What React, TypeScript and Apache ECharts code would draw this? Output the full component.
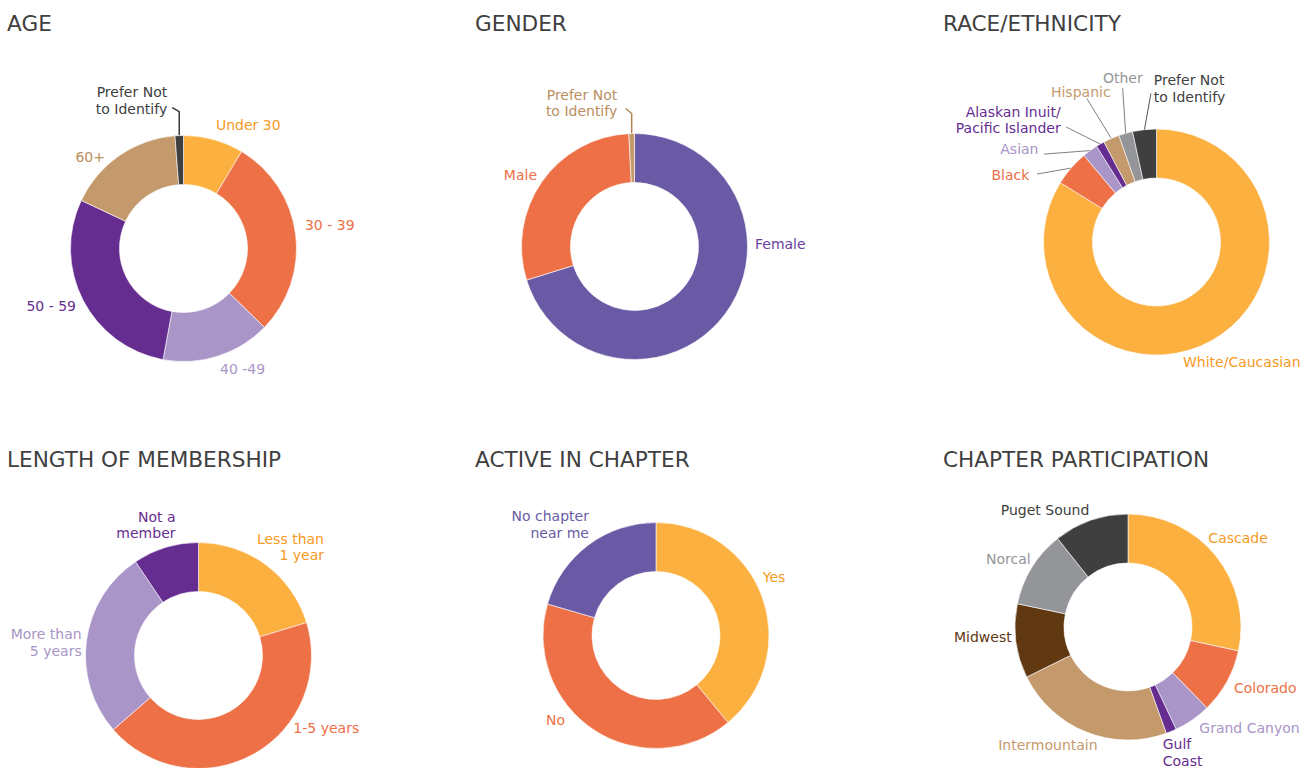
import React, { useEffect, useRef } from 'react';
import * as echarts from 'echarts';

// ---------- DATA ----------
const panelTitles = ['AGE', 'GENDER', 'RACE/ETHNICITY', 'LENGTH OF MEMBERSHIP', 'ACTIVE IN CHAPTER', 'CHAPTER PARTICIPATION'];

const ageCategories = ['Under 30', '30 - 39', '40 -49', '50 - 59', '60+', 'Prefer Not\nto Identify'];
const ageValues = [8.6, 28.7, 15.6, 29.1, 16.8, 1.2];

const genderCategories = ['Female', 'Male', 'Prefer Not\nto Identify'];
const genderValues = [70.2, 29.0, 0.8];

const raceCategories = ['White/Caucasian', 'Black', 'Asian', 'Alaskan Inuit/\nPacific Islander', 'Hispanic', 'Other', 'Prefer Not\nto Identify'];
const raceValues = [83.8, 5.1, 2.2, 1.2, 2.3, 2.0, 3.4];

const membershipCategories = ['Less than\n1 year', '1-5 years', 'More than\n5 years', 'Not a\nmember'];
const membershipValues = [20.3, 43.3, 27.0, 9.4];

const activeCategories = ['Yes', 'No', 'No chapter\nnear me'];
const activeValues = [39.0, 40.5, 20.5];

const chapterCategories = ['Cascade', 'Colorado', 'Grand Canyon', 'Gulf\nCoast', 'Intermountain', 'Midwest', 'Norcal', 'Puget Sound'];
const chapterValues = [28.4, 9.3, 5.3, 1.5, 23.2, 10.6, 11.0, 10.7];

// ---------- STYLE ----------
const YEL = '#FBB040', ORG = '#ED7047', LPUR = '#A995C7', DPUR = '#662D91', TAN = '#C49A6C';
const DGRY = '#3F3F3F', GRY = '#939598', BRN = '#603913', SLATE = '#6A5AA5';
const YEL_TXT = '#F79A25', TAN_TXT = '#BA8F60';
const FONT = 'DejaVu Sans';

type Nudge = { dx: number; dy: number; align?: 'left' | 'right'; line?: number[][]; lineColor?: string; lineWidth?: number };

const panelStyles: { center: number[]; title: number[]; colors: string[]; labelColors: string[]; nudges: Nudge[] }[] = [
  {
    center: [183.5, 248.5], title: [7, 12],
    colors: [YEL, ORG, LPUR, DPUR, TAN, DGRY],
    labelColors: [YEL_TXT, ORG, LPUR, DPUR, TAN_TXT, '#404040'],
    nudges: [
      { dx: -2.7, dy: -14.6 }, { dx: 4.4, dy: -9 }, { dx: -2.7, dy: 12.8 }, { dx: -2, dy: 5.9 }, { dx: -9.4, dy: 1.6 },
      { dx: -6, dy: -34, line: [[0, 0], [0, -24], [-7, -28]], lineColor: '#3A3A3A', lineWidth: 1.5 },
    ],
  },
  {
    center: [634.5, 246.5], title: [475, 12],
    colors: [SLATE, ORG, TAN],
    labelColors: ['#6A3F9E', ORG, TAN_TXT],
    nudges: [
      { dx: 24.5, dy: -69.5 }, { dx: 0.2, dy: -6.8 },
      { dx: -8.4, dy: -29.3, line: [[0, 0], [0, -20], [-6, -25]], lineColor: '#B08558', lineWidth: 1.5 },
    ],
  },
  {
    center: [1156.5, 242], title: [943, 12],
    colors: [YEL, ORG, LPUR, DPUR, TAN, GRY, DGRY],
    labelColors: [YEL_TXT, ORG, LPUR, DPUR, TAN, GRY, '#404040'],
    nudges: [
      { dx: -33.6, dy: 21.3 },
      { dx: -35, dy: 7.4, line: [[0, 0], [-34, 6]] },
      { dx: -45, dy: -0.6, line: [[0, 0], [-46, 3.5]] },
      { dx: -33, dy: -23, line: [[0, 0], [-34, -17]] },
      { dx: 5.7, dy: -45.4, line: [[0, 0], [-24.5, -40]] },
      { dx: 23.3, dy: -54.3, line: [[0, 0], [-3, -45]] },
      { dx: 15.5, dy: -40.1, align: 'left', line: [[0, 0], [6.5, -36.3]], lineColor: '#555555' },
    ],
  },
  {
    center: [198.5, 655.5], title: [7, 448.5],
    colors: [YEL, ORG, LPUR, DPUR],
    labelColors: [YEL_TXT, ORG, LPUR, DPUR],
    nudges: [{ dx: 53.2, dy: -17.7, align: 'right' }, { dx: 35.1, dy: -26.1 }, { dx: 0.2, dy: 1.7 }, { dx: 14.9, dy: -22.4 }],
  },
  {
    center: [656, 635.5], title: [475, 448.5],
    colors: [YEL, ORG, SLATE],
    labelColors: [YEL_TXT, ORG, SLATE],
    nudges: [{ dx: -4.6, dy: -19.9 }, { dx: -24, dy: -9.9 }, { dx: 5.8, dy: -20.4 }],
  },
  {
    center: [1128, 627], title: [943, 448.5],
    colors: [YEL, ORG, LPUR, DPUR, TAN, BRN, GRY, DGRY],
    labelColors: [YEL_TXT, ORG, LPUR, DPUR, TAN, BRN, GRY, '#404040'],
    nudges: [
      { dx: -12.6, dy: -18.3 }, { dx: 2.1, dy: 6 }, { dx: 1.9, dy: 7.8 }, { dx: -13.5, dy: 21.2 },
      { dx: 16.9, dy: 13.2 }, { dx: 0.8, dy: -4.5 }, { dx: 3.9, dy: -8.4 }, { dx: 3.6, dy: -10.3 },
    ],
  },
];

const panelData = [
  { cats: ageCategories, vals: ageValues },
  { cats: genderCategories, vals: genderValues },
  { cats: raceCategories, vals: raceValues },
  { cats: membershipCategories, vals: membershipValues },
  { cats: activeCategories, vals: activeValues },
  { cats: chapterCategories, vals: chapterValues },
];

function layoutLabel(si: number, params: any) {
  const n = panelStyles[si].nudges[params.dataIndex];
  if (!n) return {};
  const r = params.labelRect;
  const isRight = params.align === 'right';
  const ax = isRight ? r.x + r.width : r.x;
  const ay = r.y + r.height / 2;
  const out: any = {
    x: ax + n.dx,
    y: ay + n.dy,
    align: n.align || params.align,
    verticalAlign: 'middle',
  };
  if (n.line) {
    let p0 = params.labelLinePoints && params.labelLinePoints[0];
    if (!p0 || !isFinite(p0[0]) || !isFinite(p0[1])) p0 = [ax + (isRight ? 6 : -6), ay];
    out.labelLinePoints = n.line.map(([dx, dy]) => [p0[0] + dx, p0[1] + dy]);
  }
  return out;
}

function buildOption() {
  return {
    animation: false,
    backgroundColor: '#ffffff',
    title: panelTitles.map((t, i) => ({
      text: t,
      left: panelStyles[i].title[0],
      top: panelStyles[i].title[1],
      padding: 0,
      textStyle: { fontFamily: FONT, fontSize: 21.6, fontWeight: 'normal', color: '#404040' },
    })),
    series: panelData.map((p, si) => {
      const st = panelStyles[si];
      return {
        type: 'pie',
        center: st.center,
        radius: [64, 113],
        startAngle: 90,
        clockwise: true,
        avoidLabelOverlap: false,
        minShowLabelAngle: 0,
        silent: true,
        itemStyle: { borderColor: '#ffffff', borderWidth: 0.6 },
        label: {
          show: true,
          position: 'outside',
          formatter: '{b}',
          fontFamily: FONT,
          fontSize: 14,
          lineHeight: 16.5,
          distanceToLabelLine: 5,
        },
        labelLine: { show: false, length: 0, length2: 0 },
        emphasis: { disabled: true },
        labelLayout: (params: any) => layoutLabel(si, params),
        data: p.cats.map((c, i) => {
          const n = st.nudges[i];
          return {
            name: c,
            value: p.vals[i],
            itemStyle: { color: st.colors[i] },
            label: { color: st.labelColors[i] },
            labelLine: n && n.line
              ? { show: true, length: 1, length2: 1, smooth: false, lineStyle: { color: n.lineColor || '#7F7F7F', width: n.lineWidth || 1 } }
              : { show: false, length: 0, length2: 0 },
          };
        }),
      };
    }),
  };
}

export default function App() {
  const ref = useRef<HTMLDivElement>(null);
  useEffect(() => {
    if (!ref.current) return;
    const chart = echarts.init(ref.current, null, { renderer: 'svg' });
    chart.setOption(buildOption() as any);
    return () => chart.dispose();
  }, []);
  return (
    <div
      ref={ref}
      style={{ position: 'absolute', left: 0, top: 0, width: 1308, height: 768, background: '#ffffff' }}
    />
  );
}
